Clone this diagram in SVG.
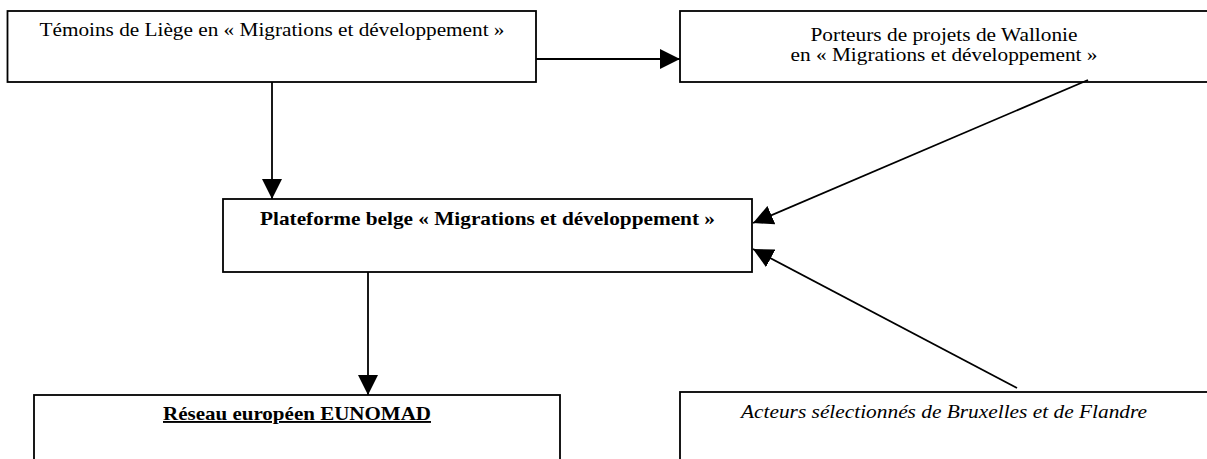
<svg xmlns="http://www.w3.org/2000/svg" width="1207" height="459" viewBox="0 0 1207 459">
<style>
.box{fill:#fff;stroke:#000;stroke-width:1.8}
.t{font-family:"Liberation Serif","Times New Roman",serif;font-size:19px;fill:#000;text-anchor:middle}
.b{font-weight:bold}
.i{font-style:italic}
.u{text-decoration:underline}
.c{stroke:#000;stroke-width:1.8;fill:none;marker-end:url(#ah)}
</style>
<defs>
<marker id="ah" markerUnits="userSpaceOnUse" markerWidth="20" markerHeight="20" refX="20" refY="10" orient="auto">
<path d="M0,0 L20,10 L0,20 Z" fill="#000"/>
</marker>
</defs>
<rect width="1207" height="459" fill="#fff"/>
<g id="node-temoins">
<rect class="box" x="7.5" y="11" width="528.5" height="71"/>
<text class="t" x="272" y="36" textLength="465" lengthAdjust="spacingAndGlyphs">Témoins de Liège en « Migrations et développement »</text>
</g>
<g id="node-porteurs">
<rect class="box" x="680" y="11" width="530" height="71"/>
<text class="t" x="944" y="41" textLength="267" lengthAdjust="spacingAndGlyphs">Porteurs de projets de Wallonie</text>
<text class="t" x="944" y="61" textLength="307" lengthAdjust="spacingAndGlyphs">en « Migrations et développement »</text>
</g>
<g id="node-plateforme">
<rect class="box" x="223" y="199" width="529" height="73"/>
<text class="t b" x="487.5" y="225" textLength="455" lengthAdjust="spacingAndGlyphs">Plateforme belge « Migrations et développement »</text>
</g>
<g id="node-eunomad">
<rect class="box" x="34" y="395" width="526" height="80"/>
<text class="t b u" x="297" y="420" textLength="268" lengthAdjust="spacingAndGlyphs">Réseau européen EUNOMAD</text>
</g>
<g id="node-acteurs">
<rect class="box" x="680" y="392" width="530" height="80"/>
<text class="t i" x="944" y="418" textLength="406" lengthAdjust="spacingAndGlyphs">Acteurs sélectionnés de Bruxelles et de Flandre</text>
</g>
<g id="connectors">
<line class="c" x1="536" y1="59" x2="680" y2="59"/>
<line class="c" x1="272" y1="82" x2="272" y2="199"/>
<line class="c" x1="1088" y1="80" x2="753" y2="223"/>
<line class="c" x1="1017" y1="388" x2="753" y2="249"/>
<line class="c" x1="368" y1="272" x2="368" y2="395"/>
</g>
</svg>
